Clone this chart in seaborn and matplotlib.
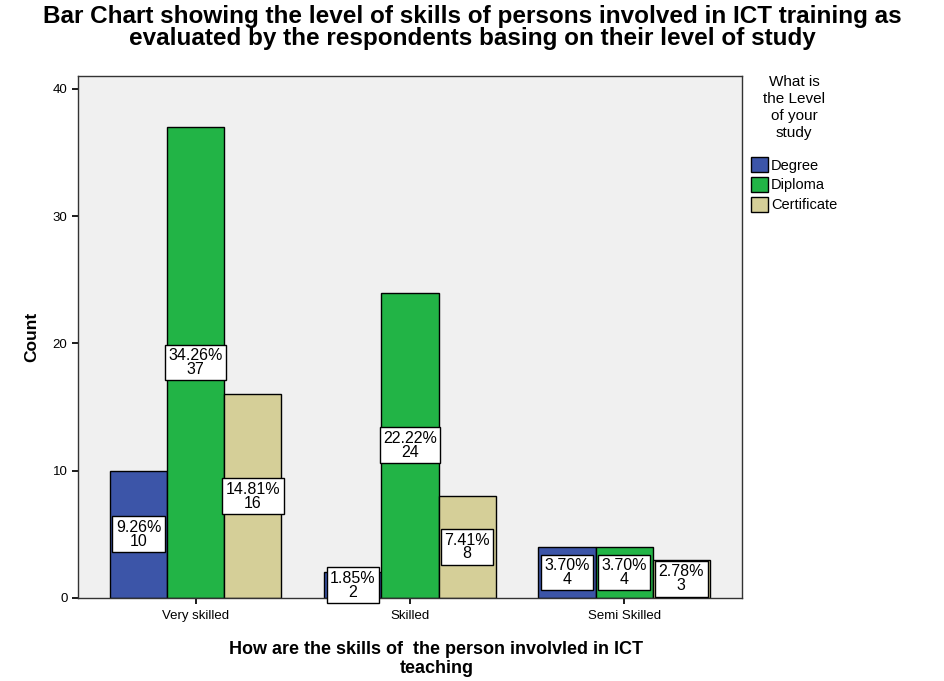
import matplotlib
matplotlib.use("Agg")
import matplotlib.pyplot as plt
import seaborn as sns
import pandas as pd

categories = ["Very skilled", "Skilled", "Semi Skilled"]
levels = ["Degree", "Diploma", "Certificate"]
degree = [10, 2, 4]
diploma = [37, 24, 4]
certificate = [16, 8, 3]
colors = ["#3C55A8", "#22B446", "#D5CF98"]

rows = []
for lvl, vals in zip(levels, [degree, diploma, certificate]):
    for c, v in zip(categories, vals):
        rows.append({"skill": c, "level": lvl, "count": v})
df = pd.DataFrame(rows)
total = sum(degree) + sum(diploma) + sum(certificate)

sns.set_theme(style="white")
plt.rcParams["font.family"] = ["Liberation Sans", "DejaVu Sans"]
plt.rcParams["text.color"] = "black"
plt.rcParams["axes.labelcolor"] = "black"
plt.rcParams["xtick.color"] = "black"
plt.rcParams["ytick.color"] = "black"

fig = plt.figure(figsize=(9.44, 6.81), dpi=100)
ax = fig.add_axes([0.0826, 0.122, 0.7034, 0.766])
ax.set_facecolor("#F0F0F0")

sns.barplot(data=df, x="skill", y="count", hue="level", order=categories,
            hue_order=levels, palette=colors, edgecolor="black", linewidth=1.0,
            saturation=1, width=0.8, ax=ax)

for cont in ax.containers:
    labs = [f"{b.get_height() / total * 100:.2f}%\n{int(b.get_height())}" for b in cont]
    ax.bar_label(cont, labels=labs, label_type="center", fontsize=11.5, linespacing=0.9,
                 bbox=dict(boxstyle="square,pad=0.22", facecolor="white", edgecolor="black", linewidth=1.0))

ax.set_xlim(-0.55, 2.55)
ax.set_ylim(0, 41)
ax.set_yticks([0, 10, 20, 30, 40])
ax.tick_params(axis="both", labelsize=9.5, length=4, color="black", direction="out", left=True, bottom=True)
ax.tick_params(axis="x", pad=5)
for s in ax.spines.values():
    s.set_color("#333333")
    s.set_linewidth(1.0)

ax.set_ylabel("Count", fontsize=12.5, fontweight="bold", labelpad=10)
ax.set_xlabel("How are the skills of  the person involvled in ICT\nteaching", fontsize=13,
              fontweight="bold", linespacing=1.15)
ax.xaxis.set_label_coords(0.54, -0.082, transform=ax.transAxes)
ax.xaxis.label.set_verticalalignment("top")

fig.suptitle("Bar Chart showing the level of skills of persons involved in ICT training as\n"
             "evaluated by the respondents basing on their level of study",
             fontsize=17.5, fontweight="bold", x=0.5, y=0.993, linespacing=0.95)

leg = ax.legend(title="What is\nthe Level\nof your\nstudy", loc="upper left",
                bbox_to_anchor=(1.0, 1.02), frameon=False, fontsize=10.5, title_fontsize=11,
                handlelength=1.2, handleheight=1.2, handletextpad=0.2, labelspacing=0.3,
                borderaxespad=0.2)
leg.get_title().set_multialignment("center")
leg.get_title().set_linespacing(1.3)
leg._legend_box.sep = 12

fig.savefig("out.png", dpi=100)
